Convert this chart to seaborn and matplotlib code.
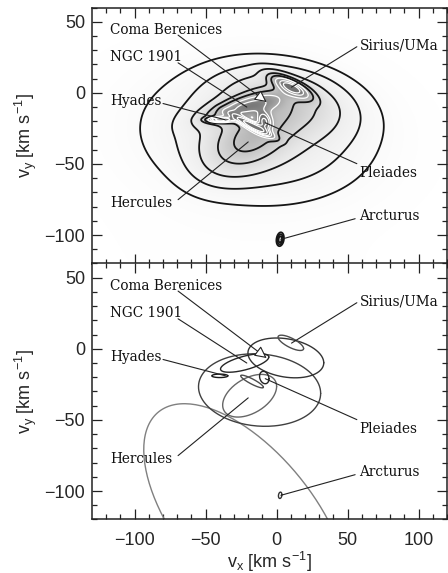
import numpy as np
import matplotlib
matplotlib.use("Agg")
import matplotlib.pyplot as plt
import seaborn as sns
import pandas as pd

# Gaussian mixture model of the (v_x, v_y) velocity distribution
amps = [0.04, 0.38, 0.18, 0.09, 0.16, 0.012, 0.04, 0.02, 0.05, 0.0012]
mean_vx = [-21.5, -12.0, 6.5, -22.5, -19.0, -40.0, -17.3, -8.7, 10.0, 2.5]
mean_vy = [-120.0, -29.0, -6.4, -10.0, -33.0, -19.0, -23.0, -20.2, 4.2, -103.0]
var_xx = [5195.0, 1850.0, 713.0, 289.0, 361.0, 32.0, 64.0, 11.0, 81.0, 1.5]
var_yy = [6626.0, 650.0, 196.0, 42.0, 225.0, 1.5, 20.0, 19.0, 29.0, 5.0]
cov_xy = [-3538.0, -100.0, -92.0, 71.5, 125.0, 0.0, -32.0, -3.0, -36.0, 0.5]
ellipse_gray = [0.50, 0.25, 0.20, 0.15, 0.40, 0.10, 0.30, 0.15, 0.30, 0.20]

# Moving-group labels
group_names = ["Coma Berenices", "NGC 1901", "Hyades", "Hercules",
               "Sirius/UMa", "Pleiades", "Arcturus"]
label_vx = [-117, -117, -117, -117, 58.4, 58.4, 58.4]
label_vy = [44.5, 25.0, -6.0, -77.7, 33.3, -56.1, -86.4]
line_start_vx = [-69.4, -69.4, -80.0, -69.4, 56.5, 56.5, 55.3]
line_start_vy = [40.6, 21.1, -7.5, -75.1, 32.4, -49.8, -88.5]
line_end_vx = [-7.0, -21.0, -36.0, -20.0, 10.5, -8.0, 3.0]
line_end_vy = [-6.5, -10.0, -19.0, -34.5, 4.0, -21.0, -103.0]

x_ticks = [-100, -50, 0, 50, 100]
y_ticks = [-100, -50, 0, 50]

sns.set_theme(style="ticks")
plt.rcParams["font.family"] = ["Liberation Sans", "DejaVu Sans"]
plt.rcParams["mathtext.fontset"] = "custom"
plt.rcParams["mathtext.rm"] = "Liberation Sans"
plt.rcParams["mathtext.it"] = "Liberation Sans"

XLIM = (-130, 120)
YLIM = (-120, 60)

# density of the mixture on a grid
gx = np.arange(XLIM[0], XLIM[1] + 0.25, 0.25)
gy = np.arange(YLIM[0], YLIM[1] + 0.25, 0.25)
X, Y = np.meshgrid(gx, gy)
dens = np.zeros_like(X)
for a, mx, my, sxx, syy, sxy in zip(amps, mean_vx, mean_vy, var_xx, var_yy, cov_xy):
    C = np.array([[sxx, sxy], [sxy, syy]])
    Ci = np.linalg.inv(C)
    dx, dy = X - mx, Y - my
    q = Ci[0, 0] * dx * dx + 2 * Ci[0, 1] * dx * dy + Ci[1, 1] * dy * dy
    dens += a * np.exp(-0.5 * q) / (2 * np.pi * np.sqrt(np.linalg.det(C)))

# levels enclosing given fractions of the distribution
flat = np.sort(dens.ravel())[::-1]
cum = np.cumsum(flat)
cum /= cum[-1]
def level_for(frac):
    return flat[np.searchsorted(cum, frac)]

black_fracs = [0.935, 0.85, 0.73, 0.57, 0.42]
white_fracs = [0.28, 0.18, 0.10, 0.05, 0.02]
black_levels = sorted(level_for(f) for f in black_fracs)
white_levels = sorted(level_for(f) for f in white_fracs)

fig = plt.figure(figsize=(4.48, 5.73), dpi=100)
ax_top = fig.add_axes([0.2054, 0.5401, 0.7924, 0.4468])
ax_bot = fig.add_axes([0.2054, 0.0934, 0.7924, 0.4468])

# grey-scale image of the density
hi = level_for(0.10)
shade = np.clip(dens / hi, 0, 1) ** 0.8
ax_top.imshow(shade, extent=(gx[0], gx[-1], gy[0], gy[-1]), origin="lower",
              cmap="Greys", vmin=0, vmax=1.6, aspect="auto", interpolation="bilinear")
ax_top.contour(X, Y, dens, levels=black_levels, colors="#151515", linewidths=1.3)
ax_top.contour(X, Y, dens, levels=white_levels, colors="white", linewidths=0.9)

# 1-sigma ellipses of the mixture components
t = np.linspace(0, 2 * np.pi, 200)
for i, (mx, my, sxx, syy, sxy) in enumerate(zip(mean_vx, mean_vy, var_xx, var_yy, cov_xy)):
    L = np.linalg.cholesky(np.array([[sxx, sxy], [sxy, syy]]))
    pts = L @ np.vstack([np.cos(t), np.sin(t)])
    df = pd.DataFrame({"vx": mx + pts[0], "vy": my + pts[1]})
    g = ellipse_gray[i]
    sns.lineplot(data=df, x="vx", y="vy", sort=False, estimator=None, ax=ax_bot,
                 color=(g, g, g), linewidth=1.0)

for ax in (ax_top, ax_bot):
    for k, name in enumerate(group_names):
        ax.text(label_vx[k], label_vy[k], name, family="DejaVu Serif", fontsize=9.8,
                ha="left", va="center", color="#111111")
        if k == 0:
            ax.annotate("", xy=(line_end_vx[k], line_end_vy[k]),
                        xytext=(line_start_vx[k], line_start_vy[k]),
                        arrowprops=dict(arrowstyle="-|>,head_length=0.6,head_width=0.3",
                                        color="#222222", lw=0.8, fc="white",
                                        shrinkA=0, shrinkB=0))
        else:
            ax.plot([line_start_vx[k], line_end_vx[k]], [line_start_vy[k], line_end_vy[k]],
                    color="#222222", lw=0.8)
    ax.set_xlim(*XLIM)
    ax.set_ylim(*YLIM)
    ax.set_xticks(x_ticks)
    ax.set_yticks(y_ticks)
    ax.set_xticks(np.arange(-120, 121, 10), minor=True)
    ax.set_yticks(np.arange(-120, 61, 10), minor=True)
    ax.tick_params(which="both", direction="in", top=True, right=True,
                   color="#222222", width=0.9)
    ax.tick_params(which="major", length=7, labelsize=13, pad=5)
    ax.tick_params(which="minor", length=3.5)
    ax.tick_params(axis="x", which="major", pad=9)
    for s in ax.spines.values():
        s.set_linewidth(1.1)
        s.set_color("#222222")
    ax.set_ylabel(r"v$_\mathregular{y}$ [km s$^{-1}$]", fontsize=13, labelpad=4)
    ax.set_xlabel("")
    ax.set_yticklabels(["\u2212100", "\u221250", "0", "50"])

ax_top.set_xticklabels([])
ax_bot.set_xticklabels(["\u2212100", "\u221250", "0", "50", "100"])
ax_bot.set_xlabel(r"v$_\mathregular{x}$ [km s$^{-1}$]", fontsize=13, labelpad=1)

fig.savefig("out.png", dpi=100)
